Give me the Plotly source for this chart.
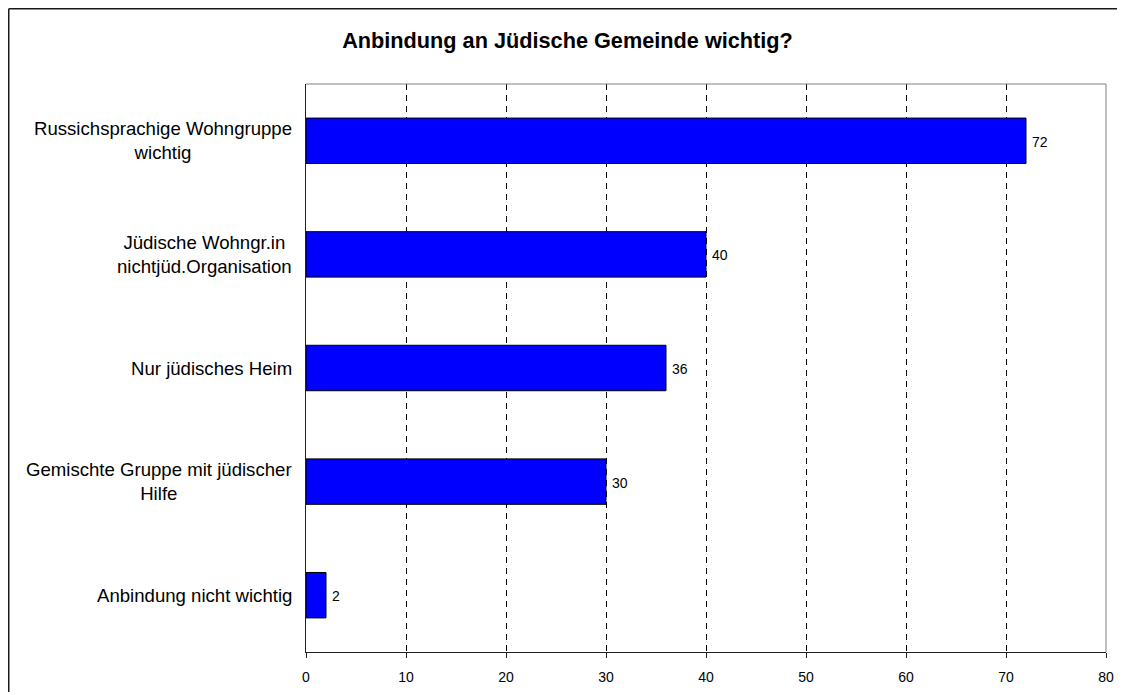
import plotly.graph_objects as go

categories = [
    "Russichsprachige Wohngruppe<br>wichtig",
    "Jüdische Wohngr.in<br>nichtjüd.Organisation",
    "Nur jüdisches Heim",
    "Gemischte Gruppe mit jüdischer<br>Hilfe",
    "Anbindung nicht wichtig",
]
values = [72, 40, 36, 30, 2]
x_ticks = [0, 10, 20, 30, 40, 50, 60, 70, 80]
title_text = "Anbindung an Jüdische Gemeinde wichtig?"

# the page body adds an 8px margin; keep the figure inside the window
OFF = 8
L, T = 306 - OFF, 84 - OFF
pw, ph = 800, 568
R, B = 11, 40
W, H = L + pw + R, T + ph + B

FONT = "Liberation Sans, Arial, sans-serif"

fig = go.Figure()
fig.add_trace(go.Bar(
    y=categories, x=values, orientation="h",
    marker=dict(color="#0000FF", line=dict(color="#000000", width=1)),
    width=0.4, showlegend=False, hoverinfo="x+y",
))

annotations = []
for c, v in zip(categories, values):
    annotations.append(dict(
        x=v, y=c, xref="x", yref="y", text=str(v), showarrow=False,
        xanchor="left", yanchor="middle", xshift=4, yshift=-1,
        font=dict(family=FONT, size=14, color="#000"),
    ))
    annotations.append(dict(
        x=0, y=c, xref="paper", yref="y", text=c, showarrow=False,
        xanchor="right", yanchor="middle", xshift=-12, align="center",
        font=dict(family=FONT, size=18.6, color="#000"),
    ))

top_y = (ph + T - 0.75) / ph
left_x = (0.75 - L) / pw
shapes = [
    # plot-area top & right frame (gray)
    dict(type="line", xref="paper", yref="paper", x0=0, x1=1, y0=1, y1=1,
         line=dict(color="#808080", width=1), layer="above"),
    dict(type="line", xref="paper", yref="paper", x0=1, x1=1, y0=0, y1=1,
         line=dict(color="#808080", width=1), layer="above"),
    # outer chart frame (top and left edges visible)
    dict(type="line", xref="paper", yref="paper", x0=left_x, x1=(W - L) / pw,
         y0=top_y, y1=top_y, line=dict(color="#1a1a1a", width=1.5), layer="above"),
    dict(type="line", xref="paper", yref="paper", x0=left_x, x1=left_x,
         y0=-B / ph, y1=top_y, line=dict(color="#1a1a1a", width=1.5), layer="above"),
]

fig.update_layout(
    width=W, height=H,
    margin=dict(l=L, r=R, t=T, b=B, pad=0, autoexpand=False),
    paper_bgcolor="#ffffff", plot_bgcolor="#ffffff",
    title=dict(text="<b>" + title_text + "</b>", x=(567.5 - OFF) / W, xanchor="center",
               xref="container", y=1 - (40 - OFF) / H, yref="container", yanchor="middle",
               font=dict(family=FONT, size=21.7, color="#000")),
    xaxis=dict(range=[0, 80], tickvals=x_ticks, ticktext=[str(t) for t in x_ticks],
               showgrid=True, gridcolor="#000000", griddash="6px,5px", gridwidth=1,
               zeroline=False, showline=True, linecolor="#222", linewidth=1,
               ticks="outside", ticklen=5, tickcolor="#222", ticklabelstandoff=7,
               tickfont=dict(family=FONT, size=14, color="#000"), fixedrange=True,
               automargin=False),
    yaxis=dict(autorange="reversed", showticklabels=False, showgrid=False,
               zeroline=False, showline=True, linecolor="#222", linewidth=1,
               ticks="", fixedrange=True, automargin=False),
    annotations=annotations,
    shapes=shapes,
    bargap=0.6,
)

fig.write_html("out.html")
